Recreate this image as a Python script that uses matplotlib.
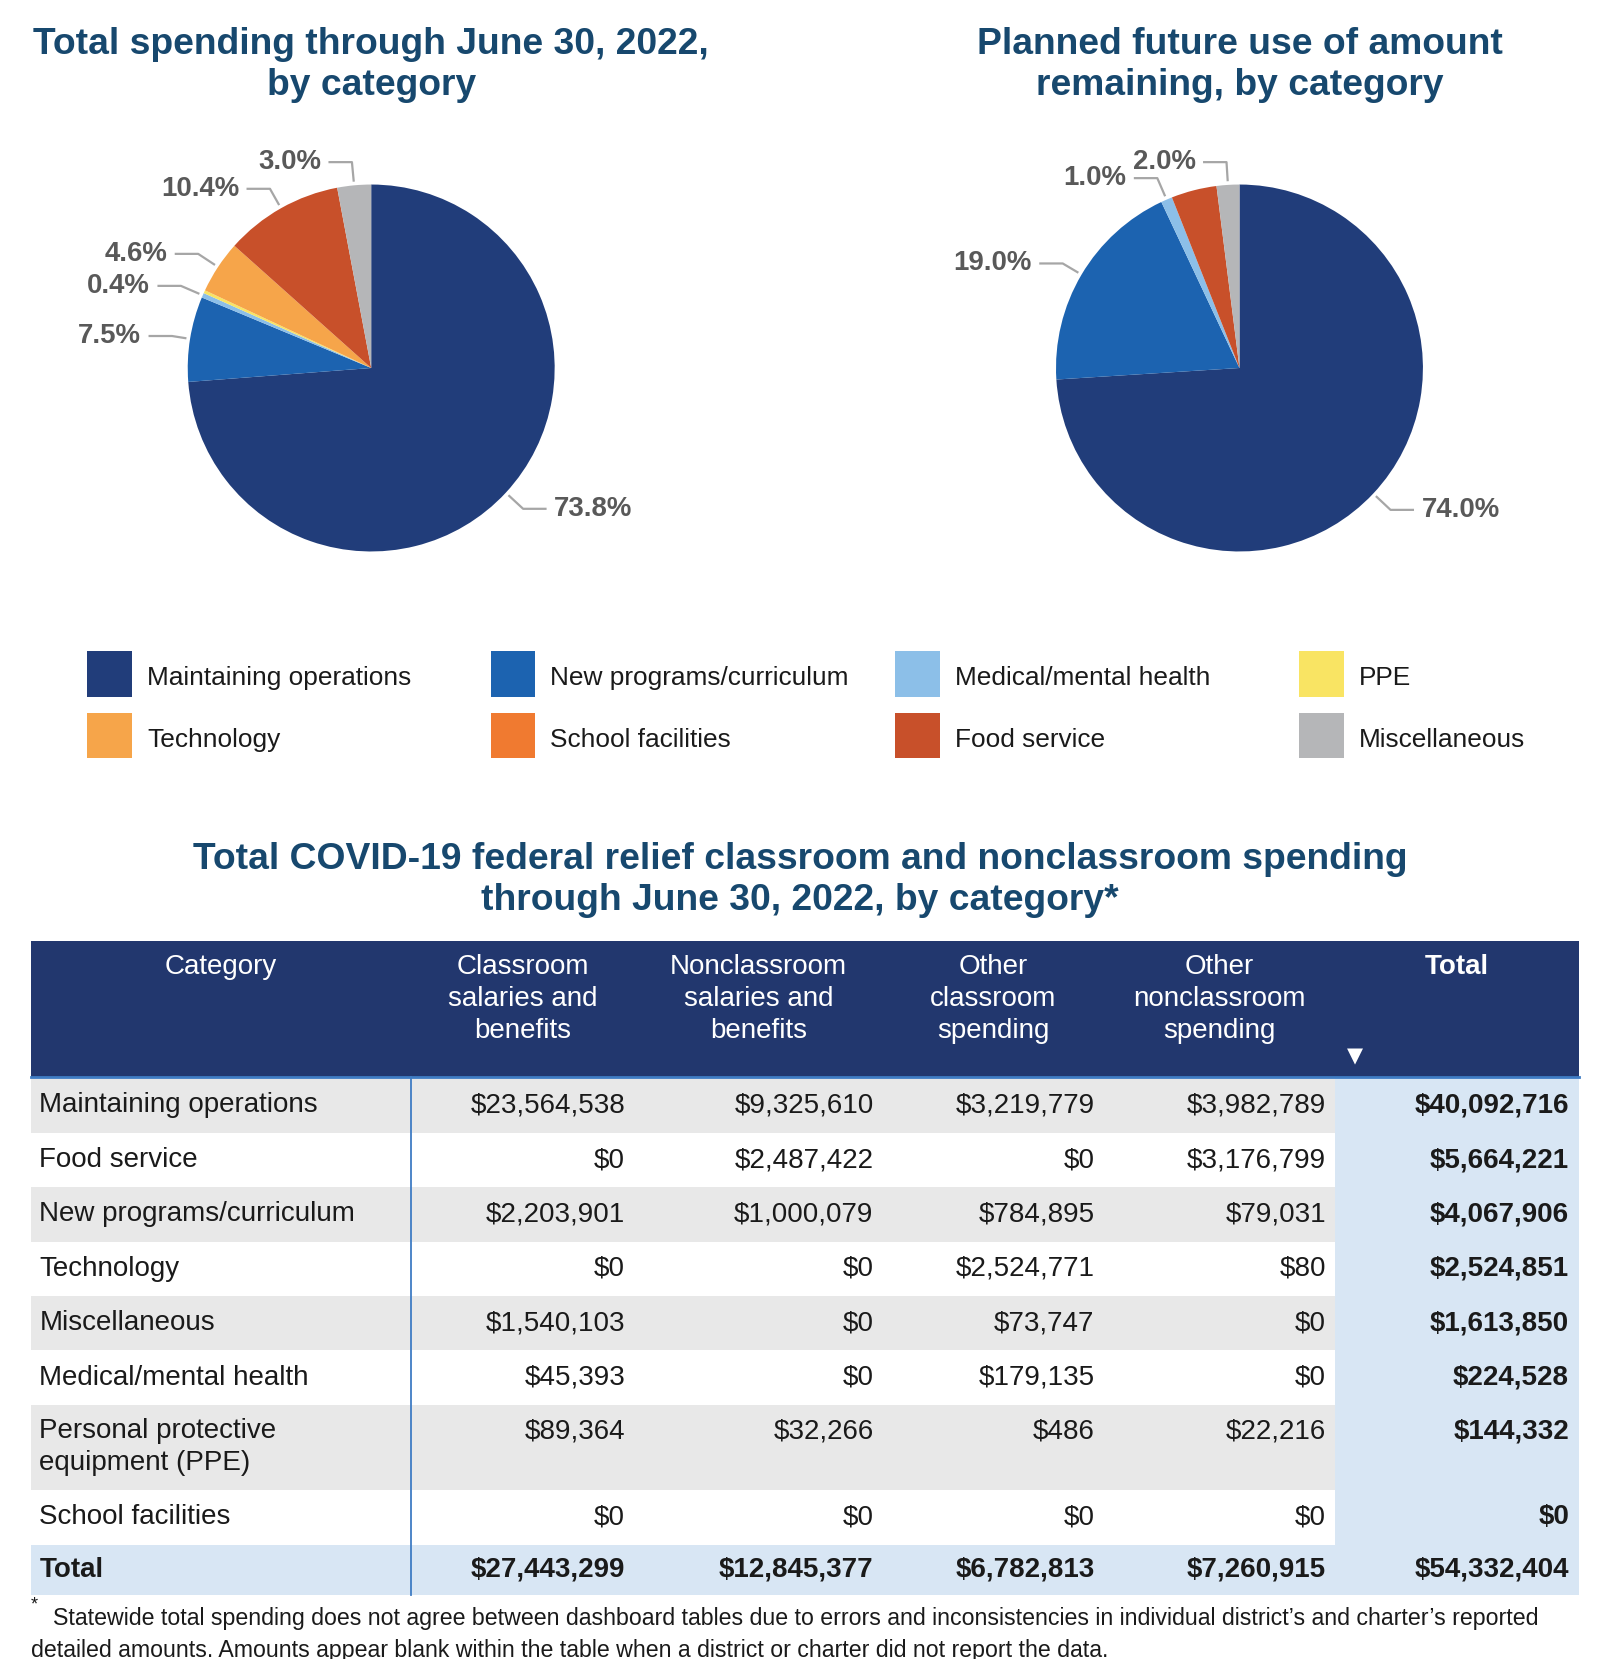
import matplotlib
matplotlib.use('Agg')
import matplotlib.pyplot as plt
from matplotlib.patches import Rectangle
import numpy as np

plt.rcParams['font.family'] = ['Liberation Sans', 'DejaVu Sans']

# ---------------- data ----------------
categories = ["Maintaining operations", "New programs/curriculum", "Medical/mental health", "PPE",
              "Technology", "School facilities", "Food service", "Miscellaneous"]
colors = ['#213d7a', '#1c63b0', '#8cbfe8', '#f9e463', '#f6a54a', '#f07a30', '#c8502a', '#b5b6b8']

# left pie: total spending (from table totals, legend order)
spent_values = [40092716, 4067906, 224528, 144332, 2524851, 0, 5664221, 1613850]
spent_labels = ["73.8%", "7.5%", "0.4%", None, "4.6%", None, "10.4%", "3.0%"]
# right pie: planned future use (percent)
planned_values = [74.0, 19.0, 1.0, 0.0, 0.0, 0.0, 4.0, 2.0]
planned_labels = ["74.0%", "19.0%", "1.0%", None, None, None, None, "2.0%"]

table_categories = ["Maintaining operations", "Food service", "New programs/curriculum", "Technology",
                    "Miscellaneous", "Medical/mental health", "Personal protective\nequipment (PPE)",
                    "School facilities"]
classroom_salaries = [23564538, 0, 2203901, 0, 1540103, 45393, 89364, 0]
nonclassroom_salaries = [9325610, 2487422, 1000079, 0, 0, 0, 32266, 0]
other_classroom = [3219779, 0, 784895, 2524771, 73747, 179135, 486, 0]
other_nonclassroom = [3982789, 3176799, 79031, 80, 0, 0, 22216, 0]
row_totals = [40092716, 5664221, 4067906, 2524851, 1613850, 224528, 144332, 0]
column_totals = [27443299, 12845377, 6782813, 7260915, 54332404]
headers = ["Category", "Classroom\nsalaries and\nbenefits", "Nonclassroom\nsalaries and\nbenefits",
           "Other\nclassroom\nspending", "Other\nnonclassroom\nspending", "Total"]

title_left = "Total spending through June 30, 2022,\nby category"
title_right = "Planned future use of amount\nremaining, by category"
table_title = "Total COVID-19 federal relief classroom and nonclassroom spending\nthrough June 30, 2022, by category*"
footnote1 = "Statewide total spending does not agree between dashboard tables due to errors and inconsistencies in individual district\u2019s and charter\u2019s reported"
footnote2 = "detailed amounts. Amounts appear blank within the table when a district or charter did not report the data."

# ---------------- layout ----------------
W, H = 1500, 1555.3
fig = plt.figure(figsize=(16, 16.59), dpi=100)
ax = fig.add_axes([0, 0, 1, 1])

def Y(y):
    return H - y

TITLE_C = '#17486e'
LABEL_C = '#595959'
LEADER_C = '#a6a6a6'
TITLE_FS = 26.8

def draw_pie(values, labels, label_ys, cx, cy, R):
    wedges, _ = ax.pie(values, colors=colors, startangle=90, counterclock=False,
                       center=(cx, Y(cy)), radius=R, wedgeprops=dict(linewidth=0))
    for w, lab, ly in zip(wedges, labels, label_ys):
        if lab is None:
            continue
        mid = np.deg2rad((w.theta1 + w.theta2) / 2)
        dx, dy = np.cos(mid), np.sin(mid)
        p0 = (cx + 1.02 * R * dx, Y(cy) + 1.02 * R * dy)
        yl = Y(ly)
        r = (yl - Y(cy)) / dy
        ex = cx + r * dx
        side = 1 if dx > 0 else -1
        x2 = ex + side * 22
        ax.plot([p0[0], ex, x2], [p0[1], yl, yl], color=LEADER_C, lw=1.6, solid_capstyle='butt')
        ax.text(x2 + side * 7, yl, lab, ha='left' if side > 0 else 'right', va='center',
                fontsize=19.9, fontweight='bold', color=LABEL_C)

draw_pie(spent_values, spent_labels, [477, 315, 268, None, 238, None, 177, 152], 348, 345, 172)
draw_pie(planned_values, planned_labels, [478, 247, 167, None, None, None, None, 152], 1162, 345, 172)

ax.text(348, Y(61), title_left, ha='center', va='center', fontsize=TITLE_FS, fontweight='bold',
        color=TITLE_C, linespacing=1.2)
ax.text(1162, Y(61), title_right, ha='center', va='center', fontsize=TITLE_FS, fontweight='bold',
        color=TITLE_C, linespacing=1.2)

# legend
leg_x = [82, 460, 839, 1218]
leg_y = [610, 668]
for i, (cat, col) in enumerate(zip(categories, colors)):
    r, c = divmod(i, 4)
    x0, y0 = leg_x[c], leg_y[r]
    ax.add_patch(Rectangle((x0, Y(y0 + 43)), 42, 43, facecolor=col, edgecolor='none'))
    ax.text(x0 + 56, Y(y0 + 26), cat, ha='left', va='center', fontsize=18.9, color='#1a1a1a')

# table title
ax.text(750, Y(825), table_title, ha='center', va='center', fontsize=TITLE_FS, fontweight='bold',
        color=TITLE_C, linespacing=1.25)

# table
TX0, TX1 = 29, 1480
TOT_X = 1252
hdr_top, hdr_bot = 882, 1010
row_edges = [1010, 1062, 1113, 1164, 1215, 1266, 1317, 1397, 1448, 1495]
ax.add_patch(Rectangle((TX0, Y(hdr_bot)), TX1 - TX0, hdr_bot - hdr_top, facecolor='#22376e', edgecolor='none'))
header_cx = [207, 490, 711, 931, 1143, 1366]
FS = 20
for j, (hx, h) in enumerate(zip(header_cx, headers)):
    for k, line in enumerate(h.split('\n')):
        ax.text(hx, Y(907 + 30 * k), line, ha='center', va='center', fontsize=FS, color='white',
                fontweight='bold' if j == 5 else 'normal')
ax.text(1270, Y(990), '\u25bc', ha='center', va='center', fontsize=15, color='white',
        family=['DejaVu Sans'])

n = len(table_categories)
for i in range(n):
    top, bot = row_edges[i], row_edges[i + 1]
    bg = '#e8e8e8' if i % 2 == 0 else 'white'
    ax.add_patch(Rectangle((TX0, Y(bot)), TOT_X - TX0, bot - top, facecolor=bg, edgecolor='none'))
    ax.add_patch(Rectangle((TOT_X, Y(bot)), TX1 - TOT_X, bot - top, facecolor='#d8e6f4', edgecolor='none'))
# total row
ax.add_patch(Rectangle((TX0, Y(row_edges[-1])), TX1 - TX0, row_edges[-1] - row_edges[-2],
                       facecolor='#d8e6f4', edgecolor='none'))
ax.plot([TX0, TX1], [Y(hdr_bot), Y(hdr_bot)], color='#3f7cc4', lw=2)
ax.plot([385, 385], [Y(hdr_bot), Y(row_edges[-1])], color='#3f7cc4', lw=1.3)

def money(v):
    return "${:,}".format(v)

value_right = [586, 819, 1026, 1243, 1471]
cols = [classroom_salaries, nonclassroom_salaries, other_classroom, other_nonclassroom, row_totals]
for i in range(n):
    top, bot = row_edges[i], row_edges[i + 1]
    lines = table_categories[i].split('\n')
    if len(lines) > 1:
        ty = top + 25
    else:
        ty = (top + bot) / 2
    for k, line in enumerate(lines):
        ax.text(37, Y(ty + 30 * k), line, ha='left', va='center', fontsize=FS, color='#1a1a1a')
    for j, col in enumerate(cols):
        ax.text(value_right[j], Y(ty), money(col[i]), ha='right', va='center', fontsize=FS,
                color='#1a1a1a', fontweight='bold' if j == 4 else 'normal')
ty = (row_edges[-2] + row_edges[-1]) / 2
ax.text(37, Y(ty), "Total", ha='left', va='center', fontsize=FS, fontweight='bold', color='#1a1a1a')
for j, v in enumerate(column_totals):
    ax.text(value_right[j], Y(ty), money(v), ha='right', va='center', fontsize=FS,
            fontweight='bold', color='#1a1a1a')

# footnote
ax.text(29, Y(1505), '*', ha='left', va='center', fontsize=13, color='#1a1a1a')
ax.text(50, Y(1517), footnote1, ha='left', va='center', fontsize=16.7, color='#1a1a1a')
ax.text(29, Y(1547), footnote2, ha='left', va='center', fontsize=16.7, color='#1a1a1a')

ax.set_xlim(0, W)
ax.set_ylim(0, H)
ax.set_aspect('auto')
ax.axis('off')

fig.savefig('out.png', dpi=100, facecolor='white')
